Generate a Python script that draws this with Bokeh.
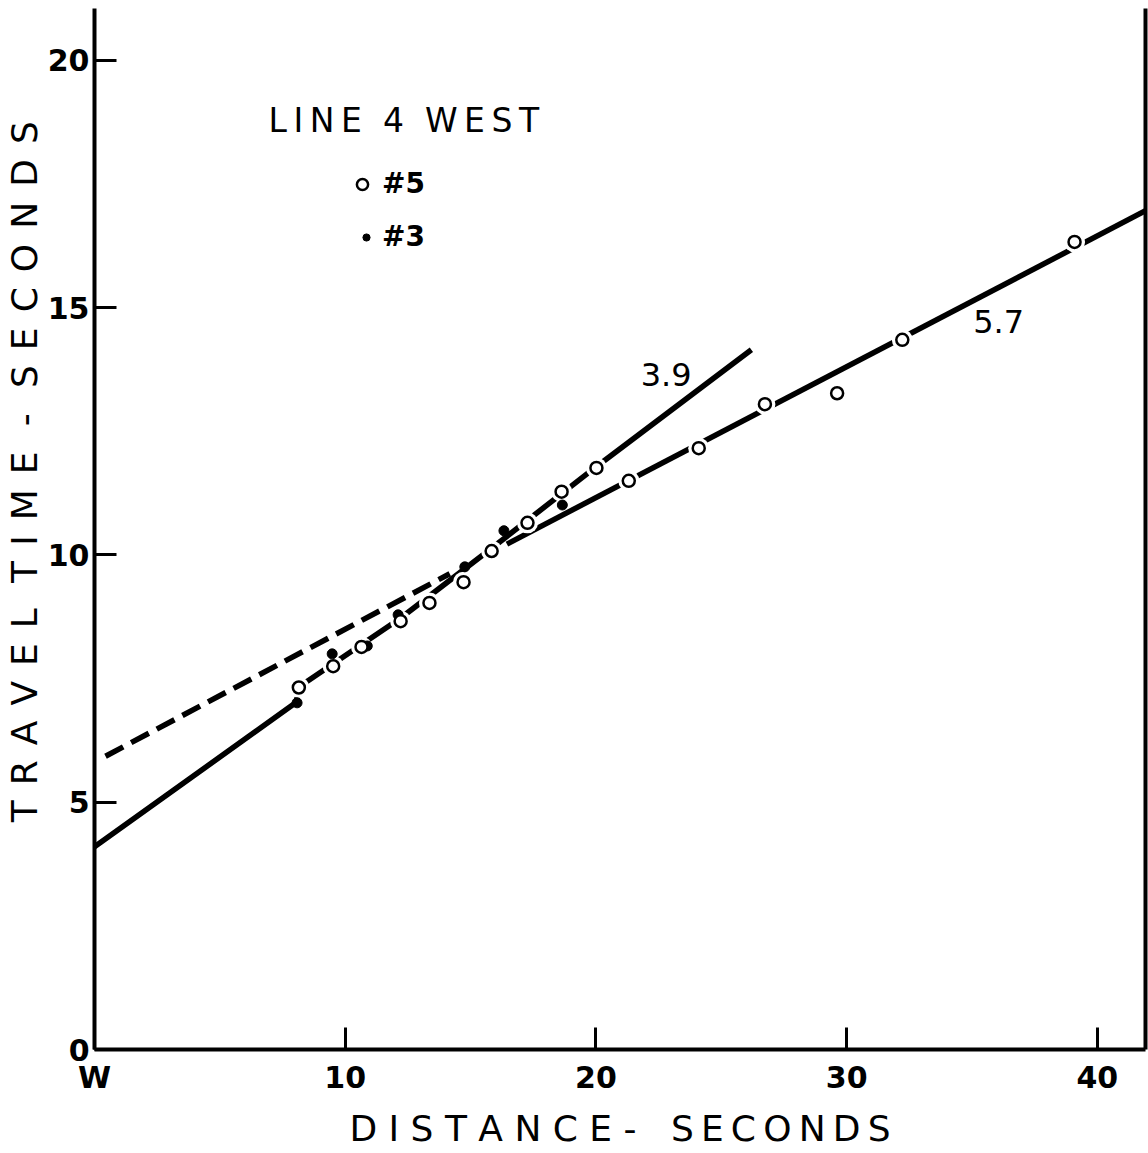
from bokeh.plotting import figure
from bokeh.models import Range1d, FixedTicker, LinearAxis, Label, Legend, LegendItem
from bokeh.embed import file_html
from bokeh.resources import INLINE

# ---------------- data ----------------
# shot #5 : open circles
open_x = [8.15, 9.52, 10.65, 12.21, 13.36, 14.72, 15.84, 17.27, 18.63, 20.02,
          21.31, 24.10, 26.74, 29.62, 32.22, 39.09]
open_y = [7.32, 7.75, 8.14, 8.66, 9.03, 9.45, 10.08, 10.65, 11.28, 11.76,
          11.50, 12.16, 13.05, 13.27, 14.35, 16.33]
# shot #3 : filled dots
dot_x = [8.08, 9.48, 10.88, 12.11, 14.77, 16.33, 18.66]
dot_y = [7.01, 8.00, 8.16, 8.79, 9.76, 10.49, 11.01]

# fitted travel-time lines
fit39_x = [0.0, 8.05, 8.15, 12.2, 15.8, 20.0, 26.2]
fit39_y = [4.10, 7.02, 7.33, 8.72, 10.12, 11.78, 14.15]
fit57_x = [16.45, 41.92]
fit57_y = [10.22, 16.96]
dash_x = [0.44, 14.17]
dash_y = [5.93, 9.62]

x_ticks = [0, 10, 20, 30, 40]
x_tick_labels = ["W", "10", "20", "30", "40"]
y_ticks = [0, 5, 10, 15, 20]
y_tick_labels = ["0", "5", "10", "15", "20"]

FONT = "DejaVu Sans"
NB, TH, HA, EN = "\u00a0", "\u2009", "\u200a", "\u2002"


def spaced(word, gap):
    return gap.join(word)


p = figure(width=1148, height=1153, output_backend="svg", toolbar_location=None,
           x_range=Range1d(0, 41.92), y_range=Range1d(0, 21.05),
           min_border_left=94, min_border_right=3, min_border_top=8,
           min_border_bottom=104)
p.outline_line_color = None
p.xgrid.visible = False
p.ygrid.visible = False
p.background_fill_color = "white"
p.border_fill_color = "white"

# axes
for ax, ticks, labels in ((p.xaxis[0], x_ticks, x_tick_labels),
                          (p.yaxis[0], y_ticks, y_tick_labels)):
    ax.ticker = FixedTicker(ticks=ticks)
    ax.major_label_overrides = {t: l for t, l in zip(ticks, labels)}
    ax.axis_line_width = 4
    ax.axis_line_color = "black"
    ax.major_tick_line_width = 3
    ax.major_tick_line_color = "black"
    ax.major_tick_in = 22
    ax.major_tick_out = 0
    ax.minor_tick_line_color = None
    ax.major_label_text_font = FONT
    ax.major_label_text_font_size = "30px"
    ax.major_label_text_font_style = "bold"
    ax.major_label_text_color = "black"
    ax.axis_label_text_font = FONT
    ax.axis_label_text_font_size = "36px"
    ax.axis_label_text_font_style = "normal"
    ax.axis_label_text_color = "black"

x_title = (spaced("DISTANCE", NB) + NB + "-" + NB * 3 + spaced("SECONDS", TH))
y_gap = NB + HA
y_word = EN + TH
y_title = (NB * 10 + spaced("TRAVEL", y_gap) + y_word + spaced("TIME", y_gap) + y_word
           + "-" + y_word + spaced("SECONDS", y_gap))

p.xaxis[0].axis_label = x_title
p.xaxis[0].major_label_standoff = 10
p.xaxis[0].axis_label_standoff = 10
p.yaxis[0].axis_label = y_title
p.yaxis[0].major_label_standoff = 5
p.yaxis[0].axis_label_standoff = 0

right_axis = LinearAxis(ticker=FixedTicker(ticks=[]), axis_line_width=4,
                        axis_line_color="black", major_tick_out=0, major_tick_in=0,
                        minor_tick_out=0, minor_tick_in=0, major_label_standoff=0,
                        major_label_text_font_size="0px")
p.add_layout(right_axis, "right")

# lines
p.line(fit39_x, fit39_y, line_width=5.5, line_color="black")
p.line(fit57_x, fit57_y, line_width=5.5, line_color="black")
p.line(dash_x, dash_y, line_width=5.5, line_color="black", line_dash="20 9")

# white halos that break the lines around the open circles
p.scatter(open_x, open_y, size=21, marker="circle", fill_color="white", line_color=None)

r_dot = p.scatter(dot_x, dot_y, size=10, marker="circle", fill_color="black",
                  line_color="black")
r_open = p.scatter(open_x, open_y, size=12, marker="circle", fill_color="white",
                   line_color="black", line_width=2.5)

# legend block
title_text = spaced("LINE", TH) + NB * 2 + "4" + NB * 2 + spaced("WEST", TH)
p.add_layout(Label(x=174, y=929, x_units="screen", y_units="screen",
                   text=title_text, text_font=FONT, text_font_size="33px",
                   text_align="left", text_baseline="middle", text_color="black"))

leg5 = Legend(items=[LegendItem(label="#5", renderers=[r_open])], location=(254, 849),
              glyph_width=28, glyph_height=32, label_standoff=6, padding=0, margin=0,
              border_line_color=None, background_fill_alpha=0,
              label_text_font=FONT, label_text_font_size="28px",
              label_text_font_style="bold", label_text_color="black", label_height=32)
leg3 = Legend(items=[LegendItem(label="#3", renderers=[r_dot])], location=(263, 796),
              glyph_width=18, glyph_height=32, label_standoff=7, padding=0, margin=0,
              border_line_color=None, background_fill_alpha=0,
              label_text_font=FONT, label_text_font_size="28px",
              label_text_font_style="bold", label_text_color="black", label_height=32)
p.add_layout(leg5)
p.add_layout(leg3)

# slope annotations
p.add_layout(Label(x=22.8, y=13.65, text="3.9", text_font=FONT,
                   text_font_size="32px", text_align="center", text_baseline="middle",
                   text_color="black"))
p.add_layout(Label(x=36.06, y=14.72, text="5.7", text_font=FONT,
                   text_font_size="32px", text_align="center", text_baseline="middle",
                   text_color="black"))

open("out.html", "w").write(file_html(p, INLINE))
